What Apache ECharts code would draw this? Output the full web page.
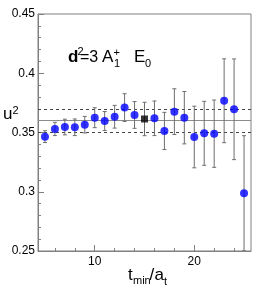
<!DOCTYPE html>
<html>
<head>
<meta charset="utf-8">
<script src="https://cdn.jsdelivr.net/npm/echarts@6/dist/echarts.min.js"></script>
<style>
html,body{margin:0;padding:0;background:#fff;}
#chart{width:266px;height:297px;}
</style>
</head>
<body>
<div id="chart"></div>
<script>
// ---- data ----
const tMinValues = [5, 6, 7, 8, 9, 10, 11, 12, 13, 14, 15, 16, 17, 18, 19, 20, 21, 22, 23, 24, 25];
const u2Values = [0.3465, 0.3530, 0.3546, 0.3544, 0.3566, 0.3625, 0.3597, 0.3633, 0.3710, 0.3648, 0.3614, 0.3620, 0.3513, 0.3676, 0.3625, 0.3462, 0.3493, 0.3490, 0.3768, 0.3696, 0.2987];
const u2Errors = [0.0050, 0.0056, 0.0066, 0.0070, 0.0070, 0.0084, 0.0080, 0.0096, 0.0117, 0.0113, 0.0141, 0.0146, 0.0157, 0.0193, 0.0221, 0.0260, 0.0270, 0.0284, 0.0354, 0.0425, 0.0486];
const chosenTMin = 15;
const fitValue = 0.3613;
const fitError = 0.0134;
const xMajorTicks = [10, 20];
const xMinorTicks = [6, 8, 12, 14, 16, 18, 22, 24];

const chart = echarts.init(document.getElementById('chart'), null, {renderer: 'canvas'});

const errData = tMinValues.map((t, i) => [t, u2Values[i], u2Errors[i]]);
const bluePts = tMinValues.map((t, i) => [t, u2Values[i]]).filter(p => p[0] !== chosenTMin);
const blackPts = tMinValues.map((t, i) => [t, u2Values[i]]).filter(p => p[0] === chosenTMin);

const frame = '#808080';
const FONT = 'Liberation Sans, Arial, sans-serif';

function txt(text, x, baseline, fs, bold) {
  return {
    type: 'text', silent: true, z: 100,
    style: {
      text: text, x: x, y: baseline - 0.35 * fs,
      font: (bold ? 'bold ' : '') + fs + 'px ' + FONT,
      fill: '#000', align: 'left', verticalAlign: 'middle'
    }
  };
}

const option = {
  animation: false,
  backgroundColor: '#fff',
  grid: {left: 38, right: 15, top: 14, bottom: 46, show: true, borderColor: frame, borderWidth: 1, backgroundColor: 'transparent'},
  xAxis: [
    {
      type: 'value', min: 4.3, max: 25.7,
      axisLine: {show: true, lineStyle: {color: frame, width: 1}},
      axisTick: {show: true, inside: true, length: 6, customValues: xMajorTicks, lineStyle: {color: frame}},
      axisLabel: {customValues: xMajorTicks, fontSize: 12, color: '#000', margin: 5, fontFamily: FONT},
      splitLine: {show: false}
    },
    {
      type: 'value', min: 4.3, max: 25.7, position: 'bottom',
      axisLine: {show: false},
      axisTick: {show: true, inside: true, length: 3, customValues: xMinorTicks, lineStyle: {color: frame}},
      axisLabel: {show: false},
      splitLine: {show: false}
    }
  ],
  yAxis: {
    type: 'value', min: 0.25, max: 0.45, interval: 0.05,
    axisLine: {show: true, lineStyle: {color: frame, width: 1}},
    axisTick: {show: true, inside: true, length: 6, lineStyle: {color: frame}},
    minorTick: {show: true, splitNumber: 5, length: 3, lineStyle: {color: frame}},
    axisLabel: {fontSize: 12, color: '#000', margin: 3, fontFamily: FONT},
    splitLine: {show: false},
    minorSplitLine: {show: false}
  },
  series: [
    {
      type: 'custom',
      xAxisIndex: 0,
      clip: true,
      z: 2,
      data: errData,
      renderItem: function (params, api) {
        const x = api.value(0), v = api.value(1), e = api.value(2);
        const top = api.coord([x, v + e]);
        const bot = api.coord([x, v - e]);
        const c = 2;
        const st = {stroke: '#6e6e6e', lineWidth: 1};
        return {
          type: 'group',
          children: [
            {type: 'line', shape: {x1: top[0], y1: top[1], x2: bot[0], y2: bot[1]}, style: st},
            {type: 'line', shape: {x1: top[0] - c, y1: top[1], x2: top[0] + c, y2: top[1]}, style: st},
            {type: 'line', shape: {x1: bot[0] - c, y1: bot[1], x2: bot[0] + c, y2: bot[1]}, style: st}
          ]
        };
      },
      markLine: {
        silent: true, symbol: ['none', 'none'], label: {show: false}, z: 1,
        data: [
          {yAxis: fitValue, lineStyle: {type: 'solid', color: '#8c8c8c', width: 1}},
          {yAxis: fitValue + fitError, lineStyle: {type: [3, 3], color: '#444', width: 1}},
          {yAxis: fitValue - fitError, lineStyle: {type: [3, 3], color: '#444', width: 1}}
        ]
      }
    },
    {
      type: 'scatter', xAxisIndex: 0, z: 3,
      symbol: 'circle', symbolSize: 8,
      itemStyle: {color: '#0000ff'},
      data: bluePts
    },
    {
      type: 'scatter', xAxisIndex: 0, z: 3,
      symbol: 'rect', symbolSize: 7,
      itemStyle: {color: '#000'},
      data: blackPts
    }
  ],
  graphic: [
    // annotation d^2=3 A1+ E0
    txt('d', 68, 63, 17, true),
    txt('2', 77.5, 56, 11),
    txt('=3', 80, 63, 16),
    txt('A', 102, 63, 17),
    txt('+', 113.5, 57, 11),
    txt('1', 114, 68, 11),
    txt('E', 134, 63, 17),
    txt('0', 145, 67.5, 11),
    // y-axis title u^2
    txt('u', 3, 120.5, 17),
    txt('2', 12.5, 114.5, 11),
    // x-axis title t_min/a_t
    txt('t', 128, 281.5, 17),
    txt('min', 133, 285, 11),
    txt('/', 149.5, 281.5, 17),
    txt('a', 154.5, 281.5, 17),
    txt('t', 164, 286, 11)
  ]
};

chart.setOption(option);
</script>
</body>
</html>
